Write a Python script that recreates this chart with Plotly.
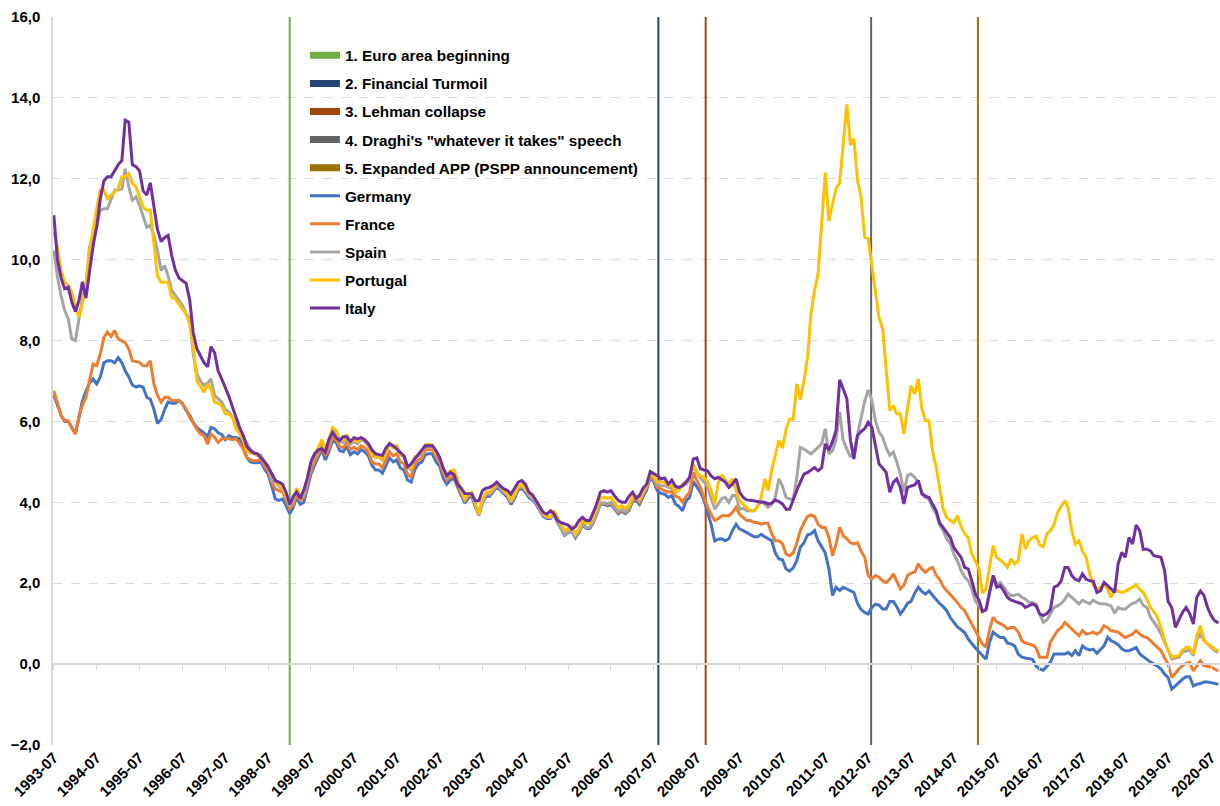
"""
Ten-year government bond yields of five euro area countries, monthly,
with the main crisis / policy events marked as vertical lines.
"""

import pandas as pd
import plotly.graph_objects as go

MONTHS = pd.date_range("1993-07-01", "2020-09-01", freq="MS")
TICK_DATES = [f"{y}-07-01" for y in range(1993, 2021)]
TICK_LABELS = [f"{y}-07" for y in range(1993, 2021)]

# one row per year, 1993 starts in July and 2020 stops in September
GERMANY = [
    6.65, 6.40, 6.15, 6.00, 6.00, 5.85,
    5.70, 6.10, 6.50, 6.75, 6.95, 7.05, 6.93, 7.10, 7.45, 7.50, 7.50, 7.45,
    7.58, 7.45, 7.25, 7.10, 6.90, 6.85, 6.88, 6.85, 6.60, 6.55, 6.30, 5.95,
    6.05, 6.30, 6.48, 6.45, 6.45, 6.52, 6.45, 6.27, 6.15, 5.98, 5.85, 5.78,
    5.72, 5.62, 5.85, 5.82, 5.72, 5.68, 5.55, 5.65, 5.60, 5.60, 5.57, 5.38,
    5.10, 5.00, 4.98, 4.98, 5.00, 4.82, 4.70, 4.40, 4.08, 4.05, 4.08, 3.92,
    3.72, 3.88, 4.12, 3.95, 4.00, 4.35, 4.70, 4.92, 5.10, 5.30, 5.05, 5.25,
    5.52, 5.48, 5.28, 5.25, 5.38, 5.18, 5.25, 5.20, 5.30, 5.25, 5.15, 4.92,
    4.80, 4.80, 4.72, 4.90, 5.10, 5.00, 5.05, 4.85, 4.80, 4.55, 4.50, 4.80,
    4.95, 5.00, 5.18, 5.20, 5.20, 5.00, 4.90, 4.60, 4.45, 4.55, 4.60, 4.38,
    4.18, 3.98, 4.10, 4.15, 3.90, 3.68, 3.98, 4.15, 4.15, 4.25, 4.38, 4.30,
    4.20, 4.12, 3.95, 4.10, 4.30, 4.35, 4.25, 4.12, 4.05, 3.95, 3.80, 3.65,
    3.60, 3.60, 3.72, 3.50, 3.35, 3.18, 3.25, 3.28, 3.12, 3.25, 3.45, 3.35,
    3.35, 3.50, 3.70, 3.95, 3.95, 3.92, 3.95, 3.82, 3.72, 3.78, 3.72, 3.80,
    4.02, 4.05, 3.95, 4.15, 4.30, 4.62, 4.50, 4.28, 4.22, 4.20, 4.12, 4.17,
    3.96, 3.90, 3.79, 4.04, 4.12, 4.52, 4.40, 4.25, 4.05, 3.75, 3.45, 3.05,
    3.09, 3.10, 3.05, 3.10, 3.30, 3.46, 3.34, 3.30, 3.25, 3.20, 3.15, 3.15,
    3.21, 3.15, 3.11, 3.05, 2.75, 2.60, 2.58, 2.35, 2.30, 2.38, 2.56, 2.89,
    3.00, 3.20, 3.22, 3.30, 3.05, 2.90, 2.75, 2.35, 1.70, 1.90, 1.82, 1.90,
    1.85, 1.82, 1.77, 1.50, 1.35, 1.28, 1.24, 1.40, 1.48, 1.46, 1.36, 1.36,
    1.55, 1.55, 1.42, 1.24, 1.35, 1.50, 1.55, 1.75, 1.90, 1.80, 1.73, 1.81,
    1.70, 1.57, 1.50, 1.42, 1.32, 1.15, 1.05, 0.92, 0.85, 0.78, 0.62, 0.50,
    0.40, 0.30, 0.22, 0.12, 0.55, 0.79, 0.72, 0.66, 0.66, 0.52, 0.50, 0.45,
    0.25, 0.17, 0.15, 0.14, 0.12, -0.05, -0.12, -0.15, -0.06, 0.05, 0.25, 0.25,
    0.25, 0.25, 0.29, 0.21, 0.33, 0.21, 0.45, 0.38, 0.35, 0.37, 0.27, 0.35,
    0.45, 0.66, 0.58, 0.54, 0.48, 0.38, 0.33, 0.33, 0.38, 0.41, 0.25, 0.18,
    0.12, 0.05, 0.00, -0.05, -0.12, -0.25, -0.33, -0.62, -0.54, -0.45, -0.37, -0.31,
    -0.31, -0.54, -0.50, -0.48, -0.44, -0.44, -0.46, -0.48, -0.50,
]

FRANCE = [
    6.76, 6.45, 6.15, 6.02, 6.02, 5.85,
    5.69, 6.14, 6.40, 6.60, 7.01, 7.42, 7.38, 7.67, 8.08, 8.21, 8.10, 8.25,
    8.04, 8.00, 7.95, 7.79, 7.50, 7.48, 7.46, 7.38, 7.38, 7.50, 6.93, 6.65,
    6.48, 6.60, 6.60, 6.52, 6.52, 6.52, 6.43, 6.31, 6.10, 5.95, 5.81, 5.69,
    5.65, 5.44, 5.69, 5.61, 5.48, 5.57, 5.57, 5.57, 5.55, 5.57, 5.45, 5.32,
    5.11, 5.05, 5.03, 5.03, 5.07, 4.90, 4.78, 4.50, 4.33, 4.29, 4.25, 4.05,
    3.84, 3.95, 4.18, 4.05, 4.12, 4.45, 4.78, 5.00, 5.18, 5.38, 5.15, 5.32,
    5.60, 5.55, 5.38, 5.35, 5.48, 5.30, 5.36, 5.30, 5.40, 5.35, 5.25, 5.00,
    4.95, 4.95, 4.85, 5.05, 5.25, 5.15, 5.20, 5.00, 4.95, 4.70, 4.62, 4.95,
    5.05, 5.10, 5.30, 5.30, 5.30, 5.12, 5.00, 4.72, 4.55, 4.62, 4.65, 4.45,
    4.25, 4.05, 4.15, 4.20, 3.95, 3.75, 4.05, 4.20, 4.20, 4.30, 4.42, 4.35,
    4.25, 4.18, 4.00, 4.15, 4.35, 4.40, 4.30, 4.18, 4.10, 4.00, 3.85, 3.68,
    3.63, 3.63, 3.75, 3.53, 3.38, 3.22, 3.28, 3.30, 3.15, 3.28, 3.48, 3.38,
    3.38, 3.52, 3.72, 3.98, 3.98, 3.95, 3.98, 3.85, 3.75, 3.80, 3.75, 3.82,
    4.05, 4.08, 4.00, 4.20, 4.35, 4.66, 4.55, 4.37, 4.32, 4.29, 4.25, 4.27,
    4.15, 4.12, 4.00, 4.15, 4.25, 4.74, 4.55, 4.37, 4.12, 3.88, 3.70, 3.55,
    3.60, 3.67, 3.67, 3.67, 3.75, 3.88, 3.70, 3.63, 3.55, 3.55, 3.50, 3.50,
    3.46, 3.48, 3.48, 3.22, 3.05, 3.05, 2.98, 2.72, 2.68, 2.75, 3.00, 3.30,
    3.50, 3.65, 3.69, 3.65, 3.46, 3.38, 3.38, 3.13, 2.68, 2.97, 3.38, 3.17,
    3.10, 3.00, 2.97, 3.00, 2.80, 2.64, 2.19, 2.10, 2.19, 2.15, 2.06, 2.02,
    2.10, 2.23, 2.05, 1.86, 1.95, 2.19, 2.25, 2.27, 2.48, 2.35, 2.27, 2.35,
    2.39, 2.19, 2.10, 1.92, 1.82, 1.73, 1.62, 1.52, 1.40, 1.32, 1.15, 1.00,
    0.80, 0.64, 0.50, 0.42, 0.85, 1.16, 1.05, 1.00, 0.95, 0.87, 0.91, 0.90,
    0.79, 0.58, 0.52, 0.50, 0.47, 0.40, 0.17, 0.17, 0.17, 0.55, 0.70, 0.83,
    0.90, 1.03, 0.95, 0.87, 0.78, 0.70, 0.83, 0.74, 0.76, 0.79, 0.74, 0.80,
    0.95, 0.90, 0.83, 0.80, 0.79, 0.72, 0.66, 0.70, 0.74, 0.83, 0.74, 0.68,
    0.66, 0.58, 0.50, 0.42, 0.33, 0.15, 0.00, -0.33, -0.21, -0.12, -0.04, 0.02,
    0.04, -0.17, -0.05, 0.08, -0.04, -0.05, -0.07, -0.12, -0.17,
]

SPAIN = [
    10.23, 9.57, 9.10, 8.75, 8.54, 8.04,
    8.00, 8.58, 9.05, 9.40, 10.31, 10.60, 10.80, 11.22, 11.26, 11.26, 11.51, 11.72,
    11.72, 11.75, 12.25, 11.80, 11.47, 11.55, 11.35, 11.06, 10.80, 10.85, 10.60, 10.23,
    9.73, 9.85, 9.60, 9.24, 9.11, 9.00, 8.87, 8.66, 8.55, 7.67, 7.18, 7.00,
    6.89, 6.95, 7.05, 6.64, 6.55, 6.48, 6.30, 6.23, 6.11, 5.95, 5.77, 5.60,
    5.44, 5.30, 5.24, 5.18, 5.16, 5.00, 4.91, 4.54, 4.50, 4.40, 4.33, 4.10,
    3.90, 4.05, 4.30, 4.10, 4.18, 4.52, 4.90, 5.12, 5.30, 5.50, 5.25, 5.45,
    5.78, 5.72, 5.50, 5.48, 5.62, 5.43, 5.50, 5.45, 5.55, 5.50, 5.40, 5.15,
    5.12, 5.12, 5.05, 5.25, 5.45, 5.35, 5.38, 5.18, 5.12, 4.88, 4.80, 5.12,
    5.15, 5.20, 5.38, 5.38, 5.38, 5.20, 5.08, 4.80, 4.62, 4.72, 4.75, 4.50,
    4.25, 4.05, 4.15, 4.20, 3.95, 3.70, 4.02, 4.20, 4.20, 4.30, 4.42, 4.35,
    4.25, 4.17, 4.00, 4.15, 4.35, 4.40, 4.30, 4.17, 4.08, 3.98, 3.83, 3.68,
    3.63, 3.62, 3.75, 3.52, 3.37, 3.20, 3.27, 3.30, 3.13, 3.27, 3.48, 3.37,
    3.38, 3.53, 3.74, 3.98, 3.99, 3.97, 4.00, 3.87, 3.77, 3.83, 3.77, 3.85,
    4.08, 4.12, 4.03, 4.22, 4.40, 4.70, 4.60, 4.45, 4.41, 4.41, 4.37, 4.35,
    4.33, 4.35, 4.40, 4.45, 4.55, 4.91, 4.75, 4.60, 4.50, 4.40, 4.10, 3.83,
    3.96, 4.10, 4.12, 4.00, 4.17, 4.17, 3.83, 3.85, 3.79, 3.79, 3.79, 3.90,
    4.04, 3.95, 3.88, 3.95, 4.12, 4.58, 4.40, 4.12, 4.08, 4.08, 4.62, 5.36,
    5.32, 5.25, 5.20, 5.28, 5.36, 5.45, 5.82, 5.20, 5.28, 5.55, 6.23, 5.53,
    5.32, 5.12, 5.25, 5.69, 6.15, 6.50, 6.78, 6.52, 6.02, 5.74, 5.61, 5.35,
    5.16, 5.24, 5.00, 4.70, 4.25, 4.66, 4.70, 4.62, 4.50, 4.25, 4.12, 4.08,
    3.85, 3.71, 3.45, 3.30, 3.10, 2.97, 2.72, 2.55, 2.31, 2.15, 2.06, 1.85,
    1.55, 1.44, 1.30, 1.36, 1.80, 2.19, 1.98, 2.02, 1.90, 1.77, 1.69, 1.70,
    1.73, 1.65, 1.61, 1.53, 1.52, 1.49, 1.24, 1.03, 1.09, 1.25, 1.40, 1.44,
    1.50, 1.60, 1.73, 1.65, 1.58, 1.49, 1.58, 1.53, 1.49, 1.58, 1.52, 1.49,
    1.49, 1.47, 1.44, 1.26, 1.40, 1.36, 1.36, 1.44, 1.50, 1.53, 1.61, 1.45,
    1.40, 1.16, 1.05, 0.91, 0.75, 0.54, 0.35, 0.12, 0.15, 0.17, 0.30, 0.33,
    0.35, 0.21, 0.60, 0.74, 0.60, 0.50, 0.41, 0.33, 0.29,
]

PORTUGAL = [
    10.69, 10.31, 9.73, 9.45, 9.36, 9.20,
    8.83, 8.58, 8.90, 9.40, 10.23, 10.80, 11.26, 11.72, 11.72, 11.51, 11.60, 11.68,
    11.76, 12.05, 12.05, 12.13, 11.88, 11.80, 11.55, 11.30, 11.22, 11.22, 10.40, 9.60,
    9.44, 9.44, 9.44, 9.07, 9.03, 8.90, 8.79, 8.66, 8.40, 7.84, 7.01, 6.85,
    6.72, 6.93, 6.80, 6.48, 6.45, 6.39, 6.19, 6.19, 6.10, 5.81, 5.70, 5.53,
    5.28, 5.22, 5.20, 5.15, 5.11, 5.00, 4.87, 4.70, 4.54, 4.45, 4.37, 4.15,
    3.98, 4.12, 4.35, 4.15, 4.25, 4.60, 4.98, 5.20, 5.35, 5.55, 5.32, 5.55,
    5.85, 5.78, 5.55, 5.55, 5.68, 5.48, 5.55, 5.50, 5.60, 5.55, 5.42, 5.18,
    5.12, 5.12, 5.05, 5.25, 5.45, 5.35, 5.40, 5.20, 5.15, 4.90, 4.85, 5.10,
    5.18, 5.25, 5.42, 5.43, 5.42, 5.22, 5.12, 4.82, 4.68, 4.78, 4.80, 4.58,
    4.30, 4.08, 4.18, 4.25, 3.98, 3.70, 4.05, 4.25, 4.25, 4.35, 4.48, 4.40,
    4.28, 4.20, 4.05, 4.20, 4.40, 4.45, 4.35, 4.22, 4.15, 4.05, 3.90, 3.72,
    3.65, 3.64, 3.80, 3.60, 3.45, 3.30, 3.35, 3.40, 3.22, 3.35, 3.58, 3.48,
    3.48, 3.65, 3.85, 4.10, 4.12, 4.10, 4.12, 3.98, 3.86, 3.92, 3.85, 3.93,
    4.15, 4.15, 4.08, 4.28, 4.42, 4.72, 4.65, 4.50, 4.50, 4.50, 4.40, 4.45,
    4.25, 4.30, 4.45, 4.50, 4.60, 4.95, 4.75, 4.65, 4.62, 4.50, 4.29, 3.96,
    4.50, 4.68, 4.55, 4.45, 4.58, 4.30, 4.04, 3.95, 3.88, 3.79, 3.79, 3.90,
    4.12, 4.58, 4.29, 4.80, 5.16, 5.53, 5.34, 5.80, 6.06, 6.06, 6.93, 6.54,
    7.00, 7.60, 8.66, 9.24, 9.65, 10.98, 12.15, 10.96, 11.37, 11.76, 11.90, 12.83,
    13.84, 12.83, 12.99, 11.96, 11.55, 10.56, 10.52, 9.86, 9.24, 8.58, 8.29, 7.34,
    6.27, 6.39, 6.19, 6.19, 5.69, 6.31, 6.88, 6.68, 7.05, 6.31, 6.02, 6.02,
    5.25, 4.87, 4.37, 3.83, 3.63, 3.55, 3.50, 3.67, 3.40, 3.22, 3.13, 2.72,
    2.55, 2.35, 1.75, 1.86, 2.40, 2.93, 2.64, 2.56, 2.50, 2.39, 2.60, 2.48,
    2.55, 3.22, 2.84, 3.05, 3.13, 3.17, 2.95, 2.90, 3.22, 3.30, 3.45, 3.75,
    3.90, 4.04, 3.87, 3.30, 2.97, 3.05, 2.80, 2.64, 2.23, 1.95, 1.86, 1.90,
    1.98, 1.85, 1.65, 1.86, 1.80, 1.77, 1.80, 1.86, 1.92, 1.96, 1.85, 1.77,
    1.60, 1.40, 1.30, 1.16, 0.90, 0.58, 0.35, 0.17, 0.19, 0.21, 0.35, 0.41,
    0.41, 0.25, 0.70, 0.95, 0.58, 0.50, 0.45, 0.37, 0.33,
]

ITALY = [
    11.10, 10.00, 9.55, 9.28, 9.32, 8.95,
    8.72, 9.00, 9.45, 9.05, 9.70, 10.35, 10.80, 11.50, 11.95, 12.05, 12.05, 12.20,
    12.35, 12.45, 13.45, 13.40, 12.35, 12.30, 12.20, 11.70, 11.60, 11.90, 11.35, 10.75,
    10.45, 10.55, 10.60, 10.10, 9.75, 9.55, 9.48, 9.42, 9.00, 8.20, 7.80, 7.62,
    7.45, 7.35, 7.85, 7.70, 7.25, 7.05, 6.85, 6.62, 6.35, 6.10, 5.85, 5.65,
    5.38, 5.28, 5.22, 5.20, 5.10, 5.00, 4.87, 4.70, 4.54, 4.50, 4.45, 4.25,
    3.95, 4.15, 4.25, 4.10, 4.30, 4.60, 5.00, 5.20, 5.30, 5.32, 5.24, 5.55,
    5.73, 5.60, 5.53, 5.62, 5.62, 5.50, 5.60, 5.57, 5.60, 5.55, 5.45, 5.30,
    5.20, 5.18, 5.16, 5.35, 5.45, 5.40, 5.32, 5.22, 5.15, 4.88, 4.95, 5.07,
    5.18, 5.30, 5.40, 5.40, 5.40, 5.28, 5.12, 4.85, 4.66, 4.74, 4.68, 4.45,
    4.35, 4.22, 4.22, 4.21, 4.04, 4.04, 4.29, 4.35, 4.37, 4.42, 4.50, 4.40,
    4.33, 4.29, 4.20, 4.35, 4.50, 4.54, 4.45, 4.25, 4.18, 4.04, 3.90, 3.75,
    3.71, 3.79, 3.72, 3.55, 3.50, 3.46, 3.44, 3.34, 3.40, 3.55, 3.63, 3.55,
    3.55, 3.76, 3.95, 4.25, 4.29, 4.25, 4.29, 4.16, 4.05, 4.00, 4.00, 4.15,
    4.25, 4.10, 4.17, 4.35, 4.45, 4.76, 4.72, 4.66, 4.58, 4.60, 4.45, 4.55,
    4.40, 4.37, 4.41, 4.50, 4.62, 5.07, 5.10, 4.83, 4.80, 4.78, 4.65, 4.58,
    4.62, 4.55, 4.50, 4.37, 4.45, 4.58, 4.25, 4.12, 4.06, 4.05, 4.04, 4.02,
    4.00, 4.00, 3.96, 3.98, 4.06, 4.02, 3.96, 3.83, 3.83, 4.08, 4.30, 4.50,
    4.70, 4.74, 4.80, 4.86, 4.78, 4.86, 5.45, 5.29, 5.50, 5.78, 7.03, 6.80,
    6.56, 5.53, 5.07, 5.65, 5.75, 5.82, 5.98, 5.86, 5.40, 4.95, 4.85, 4.74,
    4.25, 4.50, 4.58, 4.37, 3.96, 4.37, 4.40, 4.43, 4.54, 4.21, 4.15, 4.12,
    3.95, 3.79, 3.50, 3.38, 3.25, 3.13, 2.88, 2.75, 2.64, 2.39, 2.35, 2.06,
    1.73, 1.58, 1.30, 1.34, 1.80, 2.19, 1.90, 1.94, 1.80, 1.65, 1.58, 1.55,
    1.53, 1.49, 1.40, 1.45, 1.49, 1.44, 1.24, 1.20, 1.25, 1.36, 1.90, 1.94,
    2.06, 2.39, 2.39, 2.19, 2.10, 2.06, 2.23, 2.10, 2.06, 2.05, 1.77, 1.81,
    2.02, 1.94, 1.85, 1.77, 2.48, 2.76, 2.64, 3.13, 2.97, 3.44, 3.30, 2.84,
    2.84, 2.80, 2.68, 2.66, 2.64, 2.31, 1.55, 1.40, 0.91, 1.10, 1.28, 1.40,
    1.25, 0.99, 1.65, 1.81, 1.70, 1.40, 1.20, 1.07, 1.02,
]

COUNTRIES = ["Germany", "France", "Spain", "Portugal", "Italy"]
COUNTRY_SERIES = [GERMANY, FRANCE, SPAIN, PORTUGAL, ITALY]
COUNTRY_COLORS = ["#4472C4", "#ED7D31", "#A5A5A5", "#FFC000", "#7030A0"]

EVENTS = [
    "1. Euro area beginning",
    "2. Financial Turmoil",
    "3. Lehman collapse",
    '4. Draghi\'s "whatever it takes" speech',
    "5. Expanded APP (PSPP announcement)",
]
EVENT_DATES = ["1999-01-01", "2007-08-09", "2008-09-15", "2012-07-26", "2015-01-22"]
EVENT_COLORS = ["#70AD47", "#264478", "#9E480E", "#636363", "#997300"]

Y_MIN, Y_MAX = -2, 16

FONT = dict(family="Arial, 'Liberation Sans', sans-serif", size=15,
            color="#000000", weight="bold")
LEGEND_FONT = dict(FONT, size=15.3)
GRID = "#D9D9D9"


def build_figure() -> go.Figure:
    fig = go.Figure()

    # legend entries for the events (thick swatch, no data)
    for name, color in zip(EVENTS, EVENT_COLORS):
        fig.add_trace(go.Scatter(
            x=[None], y=[None], mode="lines", name=name,
            line=dict(color=color, width=7), legendgroup=name,
        ))

    # the event markers themselves, full height of the plot
    for name, date, color in zip(EVENTS, EVENT_DATES, EVENT_COLORS):
        fig.add_trace(go.Scatter(
            x=[date, date], y=[Y_MIN, Y_MAX], mode="lines",
            line=dict(color=color, width=2), legendgroup=name,
            showlegend=False, hoverinfo="skip",
        ))

    for name, values, color in zip(COUNTRIES, COUNTRY_SERIES, COUNTRY_COLORS):
        n = min(len(values), len(MONTHS))
        fig.add_trace(go.Scatter(
            x=MONTHS[:n], y=values[:n], mode="lines", name=name,
            line=dict(color=color, width=3), legendgroup=name,
        ))

    # invisible trace so the zero-level axis gets drawn
    fig.add_trace(go.Scatter(
        x=[MONTHS[0]], y=[None], xaxis="x2", showlegend=False,
        hoverinfo="skip",
    ))

    x_range = ["1993-06-24", "2020-09-15"]

    fig.update_layout(
        template="none",
        width=1220,
        height=806,
        margin=dict(l=53, r=0, t=17, b=61),
        paper_bgcolor="white",
        plot_bgcolor="white",
        separators=",.",
        font=FONT,
        showlegend=True,
        legend=dict(
            x=0.2159, y=0.970, xanchor="left", yanchor="top",
            bgcolor="rgba(0,0,0,0)", borderwidth=0,
            font=LEGEND_FONT, tracegroupgap=5.2, traceorder="grouped",
        ),
        xaxis=dict(
            type="date", range=x_range,
            tickvals=TICK_DATES, ticktext=TICK_LABELS,
            tickangle=-45, tickfont=FONT,
            showgrid=False, showline=False, zeroline=False,
            ticks="", automargin=False,
        ),
        xaxis2=dict(
            type="date", range=x_range, overlaying="x", matches="x",
            anchor="free", position=(0 - Y_MIN) / (Y_MAX - Y_MIN),
            tickvals=TICK_DATES, showticklabels=False,
            showgrid=False, zeroline=False,
            showline=True, linecolor=GRID, linewidth=1.5,
            ticks="outside", ticklen=5, tickcolor=GRID, tickwidth=1,
        ),
        yaxis=dict(
            range=[Y_MIN, Y_MAX], dtick=2, tickformat=".1f",
            tickfont=FONT, ticklabelstandoff=8,
            showgrid=True, gridcolor=GRID, griddash="dash", gridwidth=1,
            zeroline=False, showline=True, linecolor=GRID, linewidth=1.5,
            ticks="", automargin=False,
        ),
    )
    return fig


fig = build_figure()
# the page's default body margin would push the 1220x806 figure off-screen
fig.write_html(
    "out.html",
    config={"displayModeBar": False},
    post_script="document.body.style.margin = '0px';",
)
